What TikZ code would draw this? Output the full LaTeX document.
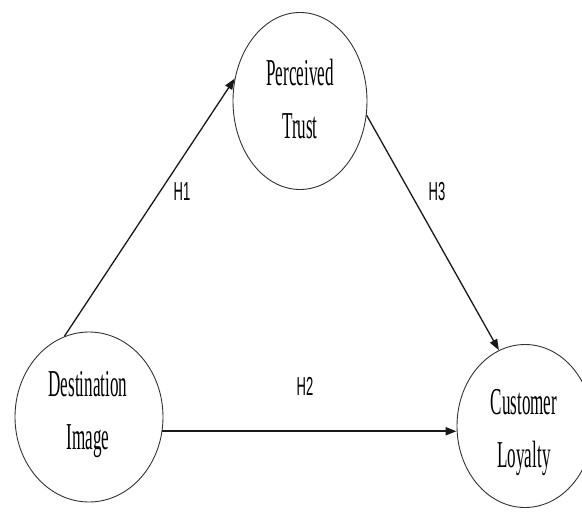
\documentclass[tikz,border=0pt]{standalone}
\usepackage{fontspec}
\usetikzlibrary{shapes.geometric,arrows.meta}
\newfontfamily\serifcond[FakeStretch=0.45]{Liberation Serif}
\newfontfamily\sanscond[FakeStretch=0.5]{Liberation Sans}
\begin{document}
\begin{tikzpicture}[x=1pt,y=-1pt,
  construct/.style={ellipse,draw=black!80,line width=0.9pt,inner sep=0pt},
  ctext/.style={align=center,inner sep=0pt,font=\serifcond\fontsize{38}{53}\selectfont},
  hyp/.style={font=\sanscond\fontsize{26}{28}\selectfont,inner sep=0pt},
  path/.style={draw=black!90,line width=1.3pt,-{Triangle[length=11pt,width=8pt]}}]
\useasboundingbox (0,0) rectangle (582,512);
\node[construct,minimum width=134pt,minimum height=177pt] (pt) at (300,101) {};
\node[ctext] (ptt) at (300,99) {Perceived\\Trust};
\node[construct,minimum width=148pt,minimum height=170pt] (di) at (89,417) {};
\node[ctext] (dit) at (88,415) {Destination\\Image};
\node[construct,minimum width=136pt,minimum height=163pt] (cl) at (525,426) {};
\node[ctext] (clt) at (524,433) {Customer\\Loyalty};
\draw[path] (di.107) -- (pt.161);
\draw[path] (pt.-12) -- (cl.109);
\draw[path,line width=2pt] (di.-11) -- (di.-11 -| cl.west);
\node[hyp] (h1) at (182,192) {H1};
\node[hyp] (h3) at (437,192) {H3};
\node[hyp] (h2) at (305,386) {H2};
\end{tikzpicture}
\end{document}
